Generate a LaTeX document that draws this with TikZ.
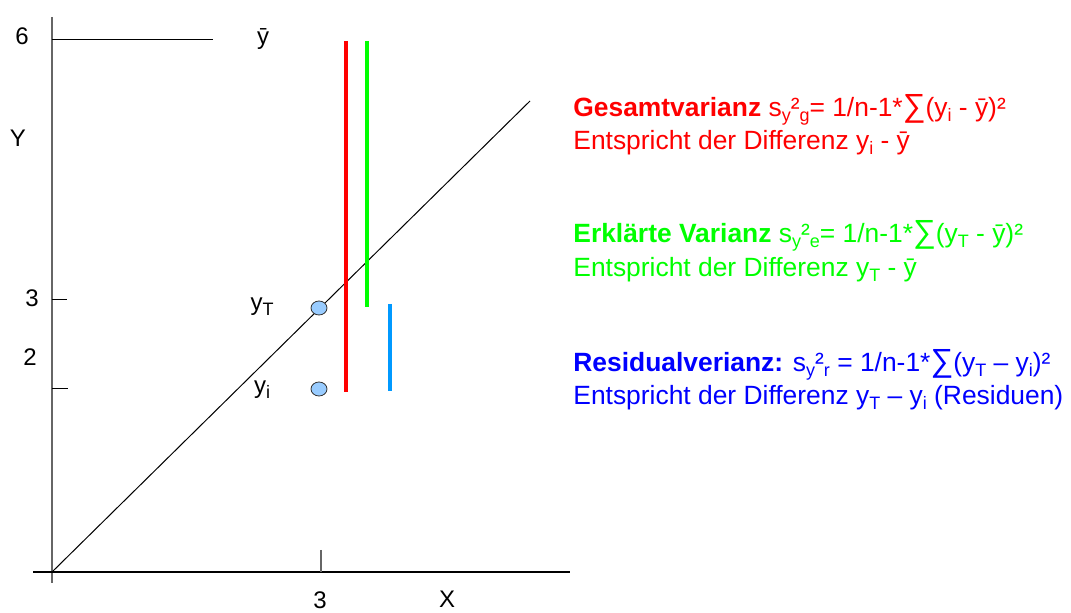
\documentclass[tikz,border=0pt]{standalone}
\usepackage{fontspec}
\setmainfont{Liberation Sans}
\usetikzlibrary{positioning,shapes.geometric}

\definecolor{gesamt}{HTML}{FF0000}
\definecolor{erklaert}{HTML}{00FF00}
\definecolor{residual}{HTML}{0000FF}
\definecolor{resbar}{HTML}{0099FF}
\definecolor{dotfill}{HTML}{99CCFF}

\newcommand{\sub}[1]{\raisebox{-0.35ex}{\fontsize{9}{9}\selectfont #1}}
\newcommand{\ybar}{ȳ}
\newcommand{\sumsym}{{\fontsize{16}{16}\selectfont ∑}}

\begin{document}
\begin{tikzpicture}[
        x=0.5pt, y=-0.5pt,
        yaxis/.style={draw=gray!80!black, line width=0.8pt},
        xaxis/.style={draw=black, line width=0.7pt},
        tick/.style={draw=black, line width=0.5pt},
        regline/.style={draw=black, line width=0.5pt},
        bar/.style={line width=2pt},
        dot/.style={ellipse, draw=black!80, fill=dotfill, line width=0.4pt, minimum width=8pt, minimum height=7pt, inner sep=0pt},
        lbl/.style={inner sep=0pt, font=\fontsize{12}{14}\selectfont},
        txt/.style={inner sep=0pt, anchor=base west, font=\fontsize{13.2}{15}\selectfont}
    ]
    \useasboundingbox (0,0) rectangle (1071,613);

    % axes
    \coordinate (ytop) at (52,17);
    \coordinate (ybot) at (52,583);
    \coordinate (xleft) at (33,572);
    \coordinate (xright) at (570,572);
    \coordinate (origin) at (52,572);
    \draw[yaxis] (ytop) -- (ybot);
    \draw[xaxis] (xleft) -- (xright);

    % ticks and mean line
    \coordinate (six) at (52,40);
    \coordinate (sixend) at (213,40);
    \coordinate (three) at (52,300);
    \coordinate (threeend) at (67,300);
    \coordinate (two) at (52,389);
    \coordinate (twoend) at (68,389);
    \coordinate (xthree) at (321,550);
    \coordinate (xthreeend) at (321,572);
    \draw[tick] (six) -- (sixend);
    \draw[tick] (three) -- (threeend);
    \draw[tick] (two) -- (twoend);
    \draw[yaxis] (xthree) -- (xthreeend);

    % regression line
    \coordinate (regend) at (530,101);
    \draw[regline] (origin) -- (regend);

    % axis labels
    \node[lbl] (l6) at (22,36) {6};
    \node[lbl] (lybar) at (263,39) {\ybar};
    \node[lbl] (lY) at (18,138) {Y};
    \node[lbl] (l3) at (32,298) {3};
    \node[lbl] (l2) at (30,357) {2};
    \node[lbl] (lx3) at (320,600) {3};
    \node[lbl] (lX) at (447,599) {X};

    % observed and fitted values
    \node[dot] (yT) at (319,308) {};
    \node[dot] (yi) at (319,389) {};
    \node[lbl] (lyT) at (262,307) {y\sub{T}};
    \node[lbl] (lyi) at (262,390) {y\sub{i}};

    % deviations
    \coordinate (rtop) at (346,41);
    \coordinate (rbot) at (346,392);
    \coordinate (gtop) at (367,41);
    \coordinate (gbot) at (367,307);
    \coordinate (btop) at (390,304);
    \coordinate (bbot) at (390,391);
    \draw[bar, gesamt] (rtop) -- (rbot);
    \draw[bar, erklaert] (gtop) -- (gbot);
    \draw[bar, resbar] (btop) -- (bbot);

    % legend text
    \node[txt, text=gesamt] (g1) at (573,117) {\textbf{Gesamtvarianz} s\sub{y}²\sub{g}= 1/n-1*\sumsym(y\sub{i} - \ybar)²};
    \node[txt, text=gesamt] (g2) at (573,150) {Entspricht der Differenz y\sub{i} - \ybar};
    \node[txt, text=erklaert] (e1) at (573,243) {\textbf{Erklärte Varianz} s\sub{y}²\sub{e}= 1/n-1*\sumsym(y\sub{T} - \ybar)²};
    \node[txt, text=erklaert] (e2) at (573,277) {Entspricht der Differenz y\sub{T} - \ybar};
    \node[txt, text=residual] (r1) at (573,372) {\textbf{Residualverianz:} s\sub{y}²\sub{r} = 1/n-1*\sumsym(y\sub{T} – y\sub{i})²};
    \node[txt, text=residual] (r2) at (573,405) {Entspricht der Differenz y\sub{T} – y\sub{i} (Residuen)};

\end{tikzpicture}
\end{document}
